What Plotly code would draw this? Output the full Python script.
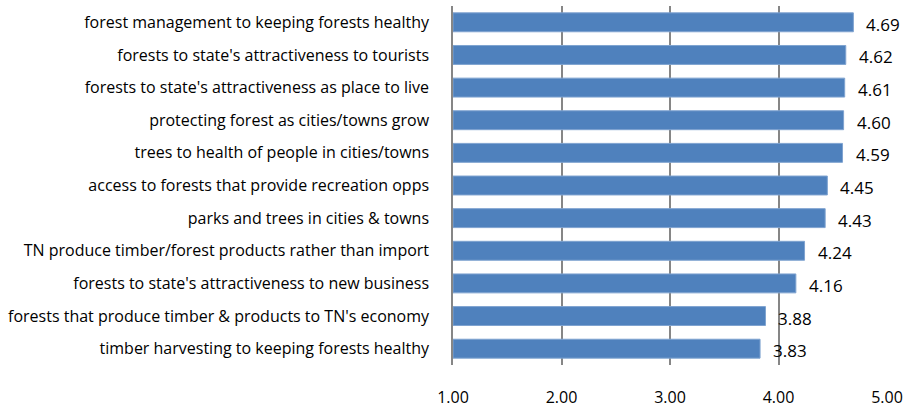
import plotly.graph_objects as go

categories = [
    "forest management to keeping forests healthy",
    "forests to state's attractiveness to tourists",
    "forests to state's attractiveness as place to live",
    "protecting forest as cities/towns grow",
    "trees to health of people in cities/towns",
    "access to forests that provide recreation opps",
    "parks and trees in cities & towns",
    "TN produce timber/forest products rather than import",
    "forests to state's attractiveness to new business",
    "forests that produce timber & products to TN's economy",
    "timber harvesting to keeping forests healthy",
]
values = [4.69, 4.62, 4.61, 4.60, 4.59, 4.45, 4.43, 4.24, 4.16, 3.88, 3.83]
tick_vals = [1, 2, 3, 4, 5]
tick_text = ["1.00", "2.00", "3.00", "4.00", "5.00"]

base = 1.0
fig = go.Figure()
fig.add_trace(go.Bar(
    y=categories,
    x=[v - base for v in values],
    base=base,
    orientation="h",
    marker=dict(color="#4F81BD", line=dict(color="#7FA3D0", width=1)),
    hoverinfo="skip",
))
for c, v in zip(categories, values):
    fig.add_annotation(x=v, y=c, text=f"{v:.2f}", showarrow=False,
                       xanchor="left", xshift=11, yshift=-2,
                       font=dict(family="Open Sans", size=17, color="#000000"))

fig.update_layout(
    width=907, height=411,
    margin=dict(l=453, r=20, t=6, b=46),
    paper_bgcolor="white", plot_bgcolor="white",
    bargap=0.42,
    showlegend=False,
    font=dict(family="Open Sans", size=15, color="#000000"),
)
fig.update_xaxes(
    range=[1, 5], tickvals=tick_vals, ticktext=tick_text,
    showgrid=True, gridcolor="#868686", gridwidth=1.5,
    zeroline=False, showline=False, automargin=False,
    tickfont=dict(family="Open Sans", size=16, color="#000000"),
    ticks="", ticklabelstandoff=21,
)
fig.update_yaxes(
    autorange="reversed", showgrid=False, automargin=False,
    showline=True, linecolor="#868686", linewidth=1.5,
    ticks="", ticklabelstandoff=19,
    tickfont=dict(family="Open Sans", size=16, color="#000000"),
)
fig.write_html("out.html",
               config={"displayModeBar": False},
               post_script="document.body.style.margin='0';document.body.style.overflow='hidden';")
